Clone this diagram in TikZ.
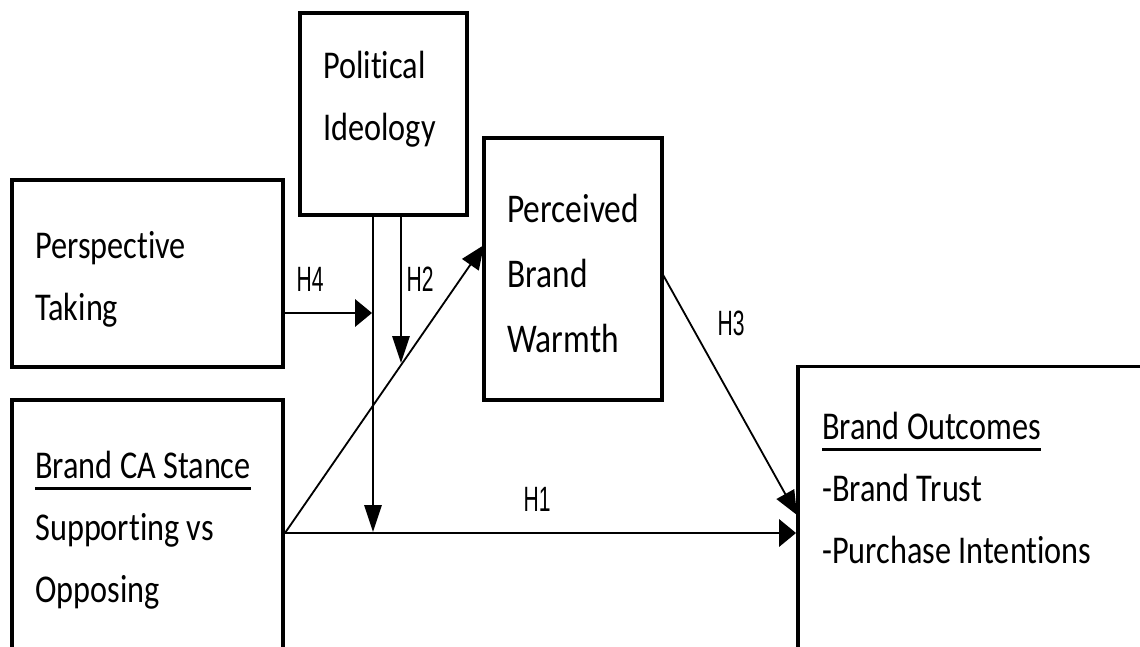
\documentclass[tikz,border=0pt]{standalone}
\usepackage{fontspec}
\setmainfont{Carlito}
\newfontfamily\boxfont{Carlito}[FakeStretch=0.82, Ligatures=NoCommon]
\newfontfamily\hypfont{Liberation Sans}[FakeStretch=0.6]
\usetikzlibrary{arrows.meta}
\newcommand{\px}{0.025cm}
\newcommand{\ulbox}[1]{\vtop{\hbox{#1}\kern6pt\hrule height 2pt}}
\tikzset{
  box/.style={draw, line width=2.8pt, inner sep=0pt},
  boxtext/.style={align=left, inner sep=0pt, anchor=base west, font=\fontsize{28}{44}\boxfont},
  hyp/.style={inner sep=0pt, anchor=base, font=\fontsize{25}{30}\hypfont},
  link/.style={line width=1.3pt},
  vtip/.style={link, -{Triangle[length=0.67cm, width=0.43cm]}},
  htip/.style={link, -{Triangle[length=0.42cm, width=0.68cm]}},
  dtip/.style={link, -{Triangle[length=0.6cm, width=0.5cm]}}
}
\begin{document}
\begin{tikzpicture}[x=\px, y=-\px]
            \useasboundingbox (0,0) rectangle (1140,646);
            \clip (0,0) rectangle (1140,646);
            % boxes
            \node[box, minimum width=167*\px, minimum height=202*\px] (pol) at (383.5,114) {};
            \node[box, minimum width=271*\px, minimum height=187*\px] (pt) at (147.5,273.5) {};
            \node[box, minimum width=178*\px, minimum height=262*\px] (pbw) at (573,269) {};
            \node[box, minimum width=271*\px, minimum height=266*\px] (ca) at (147.5,533) {};
            \node[box, minimum width=382*\px, minimum height=333*\px] (bo) at (989,533) {};
            % box texts (placed at the last baseline)
            \node[boxtext] (polt) at (323,140) {Political\\Ideology};
            \node[boxtext] (ptt) at (35,320) {Perspective\\Taking};
            \node[boxtext, font=\fontsize{29}{46}\boxfont] (pbwt) at (507,352) {Perceived\\Brand\\Warmth};
            \node[boxtext] (cat) at (35,602) {\ulbox{Brand CA Stance}\\Supporting vs\\Opposing};
            \node[boxtext] (bot) at (822,563) {\ulbox{Brand Outcomes}\\-Brand Trust\\-Purchase Intentions};
            % free ends
            \coordinate (modh1) at (373,532);
            \coordinate (modh2) at (401,363);
            \coordinate (modh4) at (372,313);
            \coordinate (pbwin) at (484,245);
            \coordinate (pbwout) at (662,273);
            \coordinate (boin) at (797,515);
            % paths
            \draw[dtip] (ca.east) -- (pbwin);
            \draw[htip] (ca.east) -- (bo.west);
            \draw[dtip] (pbwout) -- (boin);
            \draw[vtip] (modh1 |- pol.south) -- (modh1);
            \draw[vtip] (modh2 |- pol.south) -- (modh2);
            \draw[htip] (modh4 -| pt.east) -- (modh4);
            % labels
            \node[hyp] (h1) at (537,511) {H1};
            \node[hyp] (h2) at (420,291) {H2};
            \node[hyp] (h3) at (731,335) {H3};
            \node[hyp] (h4) at (310,291) {H4};

        \end{tikzpicture}
\end{document}
